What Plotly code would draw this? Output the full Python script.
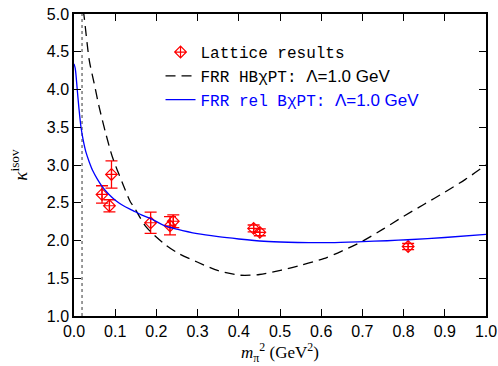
import plotly.graph_objects as go

# Lattice data
lat_x = [0.068, 0.086, 0.091, 0.186, 0.233, 0.241, 0.436, 0.451, 0.811]
lat_y = [2.61, 2.46, 2.875, 2.235, 2.195, 2.255, 2.16, 2.108, 1.92]
lat_err = [0.115, 0.08, 0.18, 0.14, 0.12, 0.085, 0.045, 0.045, 0.04]

# FRR HBChPT curve (dashed)
hb_x = [0.022, 0.024, 0.037, 0.049, 0.061, 0.077, 0.093, 0.118, 0.137, 0.146, 0.175,
        0.218, 0.25, 0.299, 0.35, 0.404, 0.45, 0.501, 0.55, 0.606, 0.65, 0.70,
        0.75, 0.80, 0.85, 0.90, 0.95, 1.0]
hb_y = [5.05, 4.99, 4.39, 4.08, 3.77, 3.42, 3.11, 2.755, 2.51, 2.44, 2.18,
        1.96, 1.84, 1.715, 1.60, 1.54, 1.55, 1.605, 1.67, 1.76, 1.86, 1.99,
        2.15, 2.32, 2.48, 2.64, 2.81, 3.0]

# FRR rel BChPT curve (solid blue)
rel_x = [0.0, 0.003, 0.008, 0.012, 0.017, 0.022, 0.029, 0.037, 0.045, 0.057, 0.069,
         0.085, 0.101, 0.12, 0.142, 0.165, 0.19, 0.218, 0.25, 0.299, 0.35, 0.40,
         0.461, 0.52, 0.57, 0.623, 0.70, 0.76, 0.81, 0.90, 1.0]
rel_y = [4.34, 4.28, 3.99, 3.75, 3.50, 3.34, 3.17, 3.04, 2.93, 2.81, 2.71,
         2.61, 2.53, 2.46, 2.40, 2.335, 2.28, 2.20, 2.15, 2.09, 2.05, 2.02,
         1.99, 1.977, 1.972, 1.972, 1.985, 1.997, 2.01, 2.04, 2.08]

# physical pion mass squared (dotted line)
mpi2_phys = 0.0195
y_range = [1.0, 5.0]
x_range = [0.0, 1.0]

sans = "Liberation Sans"
mono = "Liberation Mono"
serif = "Liberation Serif"

fig = go.Figure()

fig.add_trace(go.Scatter(
    x=[mpi2_phys, mpi2_phys], y=y_range, mode="lines",
    line=dict(color="#666666", width=1.3, dash="dot"), showlegend=False,
    hoverinfo="skip"))

fig.add_trace(go.Scatter(
    x=lat_x, y=lat_y, mode="markers", name="Lattice results",
    marker=dict(symbol="diamond-cross-open", size=9, color="red",
                line=dict(color="red", width=1.2)),
    error_y=dict(type="data", array=lat_err, color="red", thickness=1.3, width=6)))

lam = '<span style="font-family:Liberation Sans;font-size:17px">Λ=1.0 GeV</span>'

fig.add_trace(go.Scatter(
    x=hb_x, y=hb_y, mode="lines", line_shape="spline",
    name="FRR HBχPT: " + lam,
    line=dict(color="black", width=1.3, dash="10px,6px", smoothing=0.8)))

fig.add_trace(go.Scatter(
    x=rel_x, y=rel_y, mode="lines", line_shape="spline",
    name='<span style="color:blue">FRR rel BχPT: ' + lam + '</span>',
    line=dict(color="blue", width=1.3, smoothing=0.8)))

axis_common = dict(
    showline=True, linecolor="black", linewidth=1.5, mirror="ticks",
    ticks="inside", ticklen=7, tickwidth=1, tickcolor="black",
    showgrid=False, zeroline=False,
    tickfont=dict(family=sans, size=16, color="black"),
    tickformat=".1f",
)

fig.update_xaxes(range=x_range, dtick=0.1, tick0=0, **axis_common,
                 title=dict(text="<i>m</i><sub>π</sub><sup>2</sup> (GeV<sup>2</sup>)",
                            font=dict(family=serif, size=17, color="black"),
                            standoff=3))
fig.update_yaxes(range=y_range, dtick=0.5, tick0=1, **axis_common,
                 title=dict(text='<i>κ</i><sup>isov</sup>',
                            font=dict(family=serif, size=19, color="black"),
                            standoff=14))

fig.update_layout(
    width=498, height=366,
    margin=dict(l=74, r=12, t=14, b=50, autoexpand=False),
    plot_bgcolor="white", paper_bgcolor="white",
    legend=dict(x=0.21, y=0.93, xanchor="left", yanchor="top",
                bgcolor="rgba(0,0,0,0)", borderwidth=0,
                font=dict(family=mono, size=16, color="black"),
                tracegroupgap=0, itemwidth=30),
)

fig.write_html("out.html")
